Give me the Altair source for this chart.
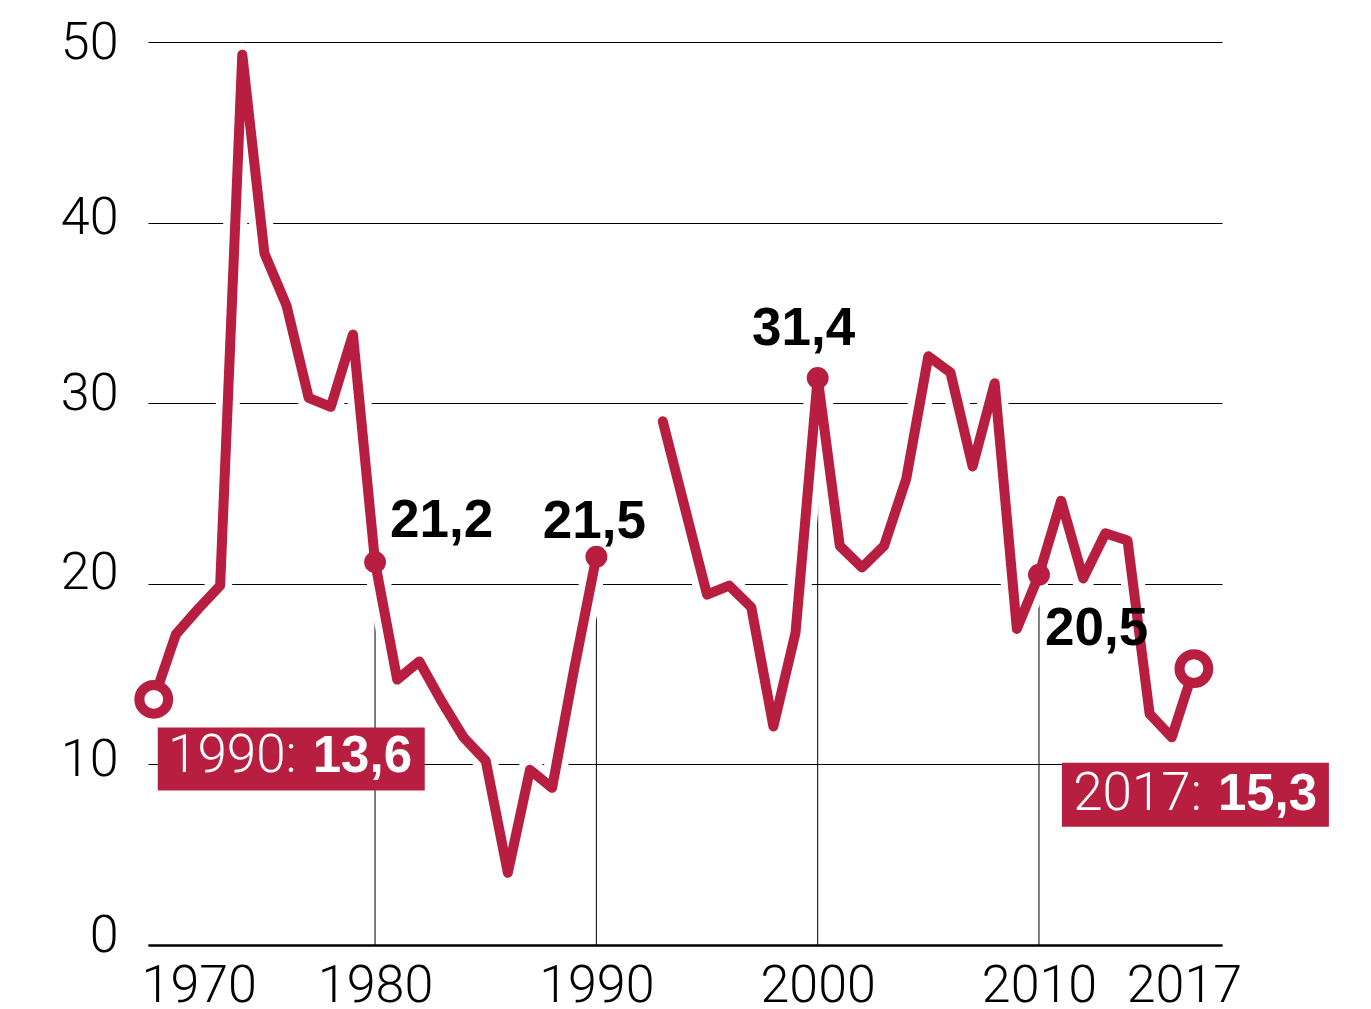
import altair as alt
import pandas as pd

# ---- data ----
years = list(range(1970, 2018))
values = [13.6, 17.2, 18.6, 19.9, 49.3, 38.3, 35.4, 30.3, 29.8, 33.8,
          21.2, 14.7, 15.7, 13.5, 11.5, 10.2, 4.0, 9.7, 8.7, 15.3,
          21.5, None, None,
          29.0, 24.2, 19.4, 19.9, 18.7, 12.1, 17.3, 31.4, 22.1, 20.9, 22.1, 25.8,
          32.6, 31.7, 26.5, 31.1, 17.5, 20.5, 24.6, 20.3, 22.8, 22.4, 12.8, 11.5, 15.3]

marked_years = [1980, 1990, 2000, 2010]
marked_labels = ["21,2", "21,5", "31,4", "20,5"]
end_years = [1970, 2017]
end_prefix = ["1990:", "2017:"]
end_numbers = ["13,6", "15,3"]
x_ticks = [1970, 1980, 1990, 2000, 2010, 2017]
y_ticks = [0, 10, 20, 30, 40, 50]

RED = "#B71E3F"
LIGHT = "Roboto"
BOLD = "Liberation Sans"

# ---- tables ----
seg, s = [], 0
for v in values:
    if v is None:
        s += 1
    seg.append(s)
df = pd.DataFrame({"year": years, "value": values, "seg": seg}).dropna()
val_of = dict(zip(df["year"], df["value"]))

marks_df = pd.DataFrame({"year": marked_years,
                         "value": [val_of[y] for y in marked_years],
                         "label": marked_labels})
ends_df = pd.DataFrame({"year": end_years,
                        "value": [val_of[y] for y in end_years],
                        "prefix": end_prefix,
                        "number": end_numbers})

X = alt.X("year:Q",
          scale=alt.Scale(domain=[1969.74, 2018.27], nice=False, zero=False),
          axis=alt.Axis(values=x_ticks, format="d", grid=False, ticks=False,
                        domain=True, domainColor="black", domainWidth=2.5,
                        labelFont=LIGHT, labelFontWeight=300, labelFontSize=52,
                        labelColor="black", labelPadding=15, labelFlush=False,
                        labelOverlap=False, title=None,
                        labelOffset={"condition": [
                            {"test": "datum.value == 1970", "value": 45},
                            {"test": "datum.value == 2017", "value": -10}],
                            "value": 0}))
Y = alt.Y("value:Q",
          scale=alt.Scale(domain=[0, 50], nice=False),
          axis=alt.Axis(values=y_ticks, grid=True, gridColor="black", gridWidth=1,
                        ticks=False, domain=False, labelFont=LIGHT,
                        labelFontWeight=300, labelFontSize=52, labelColor="black",
                        labelPadding=30, title=None,
                        labelOffset={"condition": [
                            {"test": "datum.value == 50", "value": 0},
                            {"test": "datum.value == 30", "value": -10},
                            {"test": "datum.value == 20", "value": -11},
                            {"test": "datum.value == 0", "value": -10}],
                            "value": -5}))

rules = alt.Chart(marks_df).mark_rule(color="black", strokeWidth=1).encode(
    x=X, y=Y, y2=alt.datum(0))

halo = alt.Chart(df).mark_line(color="white", strokeWidth=24, strokeCap="round",
                               strokeJoin="round").encode(x=X, y=Y, detail="seg:N")
line = alt.Chart(df).mark_line(color=RED, strokeWidth=10, strokeCap="round",
                               strokeJoin="round").encode(x=X, y=Y, detail="seg:N")

dots = alt.Chart(marks_df).mark_circle(size=480, color=RED, opacity=1).encode(x=X, y=Y)
rings = alt.Chart(ends_df).mark_point(filled=True, fill="white", stroke=RED,
                                      strokeWidth=10, size=830, opacity=1).encode(x=X, y=Y)


def one(df_, key):
    return df_[df_["year"] == key]


def label(year, align, dx, dy):
    return alt.Chart(one(marks_df, year)).mark_text(
        align=align, baseline="alphabetic", dx=dx, dy=dy, font=BOLD,
        fontWeight="bold", fontSize=53, color="black").encode(x=X, y=Y, text="label:N")


labels = [label(1980, "left", 15, -25),
          label(1990, "center", -2, -19),
          label(2000, "center", -14, -33),
          label(2010, "left", 6, 70)]


def endbox(year, x0, x1, y0, y1, dxp, dxn, dy):
    d = one(ends_df, year)
    box = alt.Chart(d).mark_rect(color=RED, opacity=1, xOffset=x0, x2Offset=x1,
                                 yOffset=y0, y2Offset=y1).encode(
        x=X, x2=alt.X2("year:Q"), y=Y, y2=alt.Y2("value:Q"))
    pre = alt.Chart(d).mark_text(align="right", baseline="alphabetic", dx=dxp, dy=dy,
                                 font=LIGHT, fontWeight=300, fontSize=53,
                                 color="white").encode(x=X, y=Y, text="prefix:N")
    num = alt.Chart(d).mark_text(align="left", baseline="alphabetic", dx=dxn, dy=dy,
                                 font=BOLD, fontWeight="bold", fontSize=51,
                                 color="white").encode(x=X, y=Y, text="number:N")
    return [box, pre, num]


boxes = endbox(1970, 4, 271, 28, 91, 143, 159, 73) + \
        endbox(2017, -132, 135, 94, 158, 8, 24, 141)

chart = alt.layer(rules, halo, line, dots, rings, *labels, *boxes).properties(
    width=1074, height=903,
    padding={"left": 140, "top": 34, "right": 135, "bottom": 75},
    autosize=alt.AutoSizeParams(type="none"),
).configure(background="white").configure_view(stroke=None)

chart.save("out.html", embed_options={"renderer": "svg", "actions": False})
